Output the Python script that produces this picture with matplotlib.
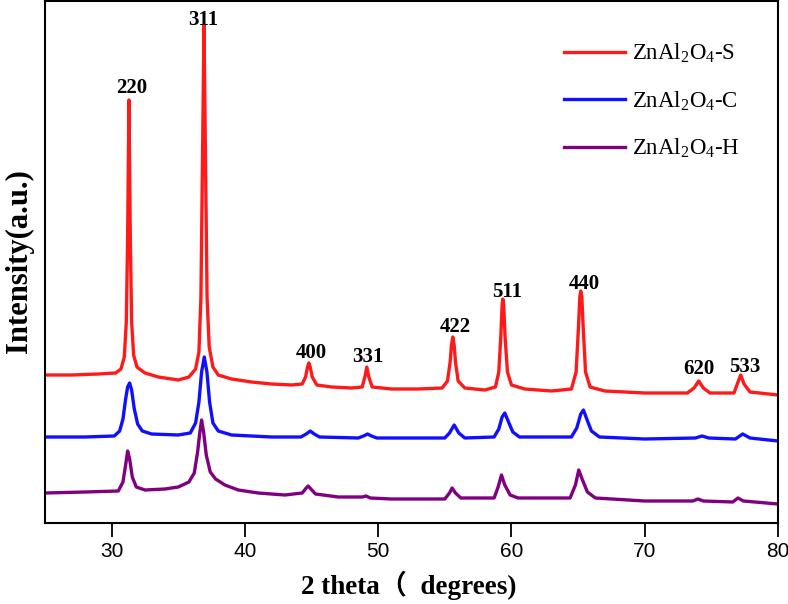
import matplotlib
matplotlib.use('Agg')
import matplotlib.pyplot as plt

# 2 theta (deg) and intensity (a.u.)
s_x = [25, 27, 29, 30.3, 30.7, 30.95, 31.1, 31.2, 31.3, 31.4, 31.5, 31.65, 31.9, 32.5, 33.5,
       35, 35.8, 36.3, 36.55, 36.7, 36.82, 36.93, 37.04, 37.16, 37.32, 37.6, 38.0, 39, 40.5,
       42, 43.5, 44.3, 44.55, 44.7, 44.8, 44.9, 45.05, 45.4, 46.5, 48, 48.8, 49.0, 49.15,
       49.3, 49.55, 51, 53, 54.8, 55.2, 55.4, 55.5, 55.6, 55.7, 55.8, 56.0, 56.5, 58, 58.8,
       59.05, 59.2, 59.3, 59.35, 59.42, 59.52, 59.7, 60.0, 61, 63, 64.5, 64.85, 65.03, 65.13,
       65.2, 65.28, 65.38, 65.56, 65.9, 67, 70, 73.2, 73.7, 74.05, 74.4, 74.9, 76.7, 77.0,
       77.2, 77.45, 77.9, 80]
s_y = [162, 162, 163, 164, 168, 180, 215, 300, 437, 300, 215, 182, 170, 164, 160,
       157, 160, 168, 185, 240, 380, 512, 380, 240, 190, 170, 162, 158, 155,
       153, 152, 153, 160, 170, 174, 170, 160, 152, 150, 149, 150, 160, 170,
       160, 150, 148, 148, 149, 156, 175, 192, 200, 192, 175, 156, 149, 147, 150,
       165, 200, 232, 238, 232, 200, 165, 152, 148, 146, 148, 165, 210, 240,
       246, 240, 210, 165, 150, 146, 144, 144, 149, 156, 149, 144, 144, 155,
       162, 153, 145, 142]

c_x = [25, 28, 30.2, 30.6, 30.85, 31.05, 31.2, 31.35, 31.5, 31.7, 31.95, 32.3, 33, 35, 35.9,
       36.3, 36.55, 36.75, 36.95, 37.15, 37.35, 37.6, 38.0, 39, 42, 44.2, 44.6, 44.9, 45.2,
       45.6, 48.5, 48.9, 49.2, 49.5, 49.9, 55, 55.35, 55.7, 56.05, 56.5, 58.7, 59.05, 59.3,
       59.5, 59.75, 60.1, 60.6, 64.5, 64.9, 65.2, 65.4, 65.65, 66.0, 66.6, 70, 73.8, 74.3,
       74.8, 76.8, 77.35, 77.9, 80]
c_y = [100, 100, 101, 106, 118, 138, 150, 154, 147, 128, 113, 106, 103, 102, 104,
       114, 135, 165, 180, 165, 135, 114, 106, 102, 100, 100, 103, 106, 103,
       100, 99, 101, 103, 101, 99, 99, 104, 112, 104, 99, 100, 108, 120,
       124, 116, 105, 100, 100, 109, 123, 127, 118, 106, 100, 98, 99, 101,
       99, 98, 103, 99, 96]

h_x = [25, 28, 30.5, 30.85, 31.05, 31.2, 31.35, 31.55, 31.85, 32.5, 34, 35, 35.8, 36.2,
       36.45, 36.62, 36.75, 36.9, 37.1, 37.4, 37.8, 38.5, 39.5, 41, 43, 44.3, 44.6, 44.75,
       44.95, 45.3, 47, 48.8, 49.1, 49.4, 51, 55, 55.35, 55.55, 55.8, 56.2, 58.7, 59.0,
       59.25, 59.5, 59.9, 60.5, 64.4, 64.8, 65.05, 65.3, 65.7, 66.3, 70, 73.6, 74.0, 74.4,
       76.6, 77.0, 77.4, 80]
h_y = [44, 45, 46, 55, 72, 86, 78, 60, 50, 47, 48, 50, 55, 64,
       85, 105, 117, 105, 82, 65, 58, 52, 47, 44, 42, 44, 49, 51,
       48, 43, 40, 40, 41, 39, 38, 38, 44, 49, 44, 39, 39, 50,
       62, 52, 42, 39, 39, 52, 67, 58, 45, 39, 36, 36, 38, 36,
       35, 39, 36, 33]

labels = ['ZnAl$_2$O$_4$-S', 'ZnAl$_2$O$_4$-C', 'ZnAl$_2$O$_4$-H']
colors = ['#ff1a1a', '#1010ff', '#800080']

peak_names = ['220', '311', '400', '331', '422', '511', '440', '620', '533']
peak_x = [31.5, 36.85, 44.95, 49.2, 55.8, 59.65, 65.5, 74.05, 77.5]
peak_y = [449, 517, 184, 180, 210, 245, 253, 168, 170]

plt.rcParams['mathtext.fontset'] = 'custom'
plt.rcParams['mathtext.rm'] = 'Liberation Serif'
plt.rcParams['mathtext.it'] = 'Liberation Serif:italic'

fig = plt.figure(figsize=(7.88, 6.04), dpi=100)
ax = fig.add_axes([45/788, 81/604, 733/788, 522/604])

for xs, ys, c, lab in zip([s_x, c_x, h_x], [s_y, c_y, h_y], colors, labels):
    ax.plot(xs, ys, color=c, lw=2.4, label=lab)

for n, x, y in zip(peak_names, peak_x, peak_y):
    ax.text(x, y, n, ha='center', va='center', fontsize=15, fontweight='bold',
            family='Liberation Serif')

ax.set_xlim(25, 80)
ax.set_ylim(14, 536)
ax.set_xticks([30, 40, 50, 60, 70, 80])
ax.set_yticks([])
for sp in ax.spines.values():
    sp.set_linewidth(1.5)
ax.tick_params(axis='x', direction='out', length=10, width=1.3, labelsize=15, pad=4)
for t in ax.get_xticklabels():
    t.set_family('Liberation Sans')

fig.text(409/788, 1 - 585/604, '2 theta（  degrees)', ha='center', va='center',
         fontsize=19.5, fontweight='bold', family=['Liberation Serif', 'Noto Sans CJK SC'])
fig.text(19/788, 1 - 261/604, 'Intensity(a.u.)', ha='center', va='center', rotation=90,
         fontsize=22, fontweight='bold', family='Liberation Serif')

ax.legend(loc='upper left', bbox_to_anchor=(564/788, 1 - 42/604), bbox_transform=fig.transFigure,
          frameon=False, prop={'family': 'Liberation Serif', 'size': 16.5}, labelspacing=1.05,
          handlelength=2.65, handletextpad=0.3, borderpad=0, borderaxespad=0)

fig.savefig('out.png', dpi=100)
